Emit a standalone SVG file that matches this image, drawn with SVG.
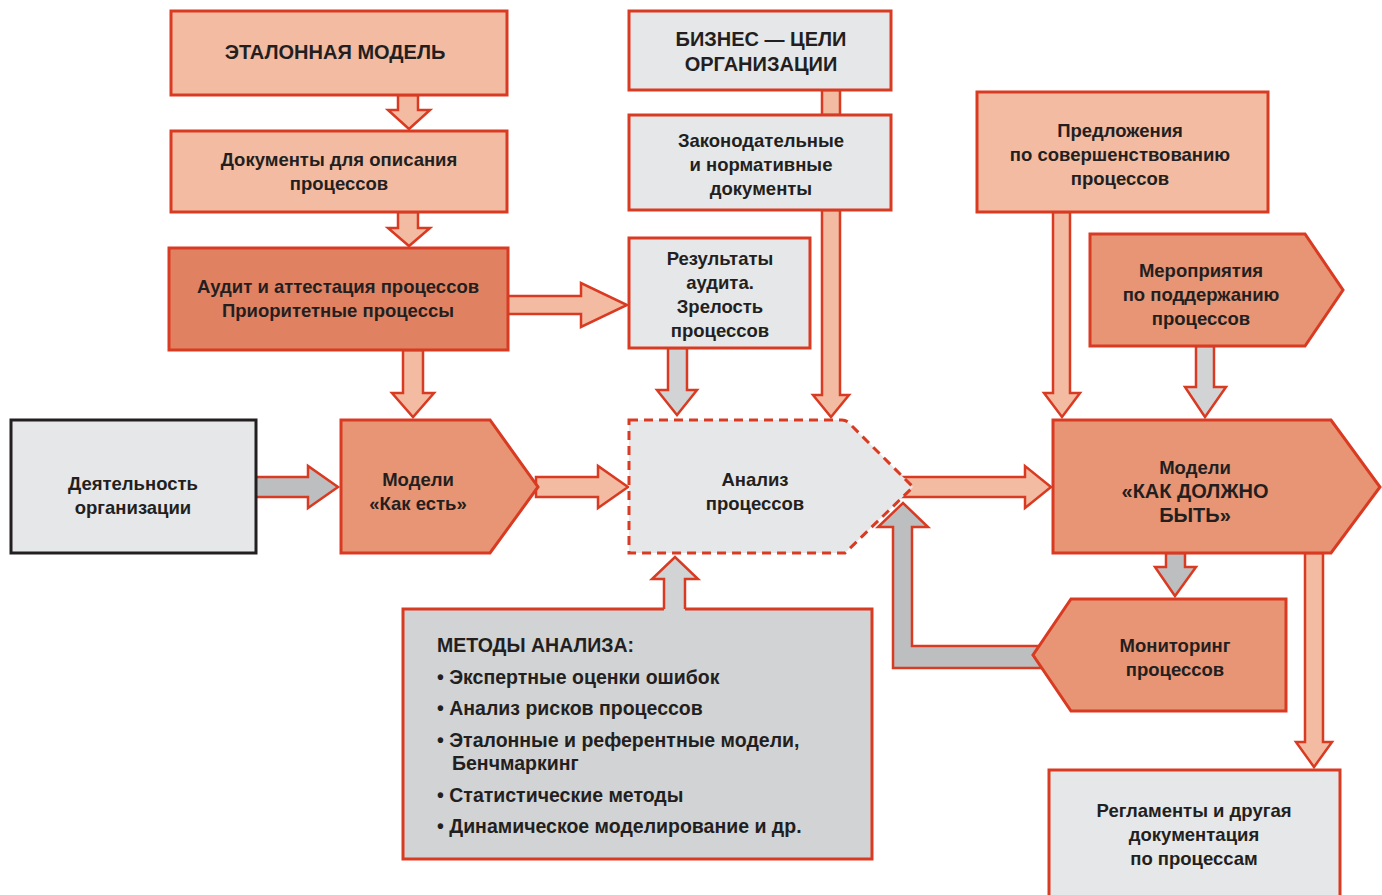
<svg xmlns="http://www.w3.org/2000/svg" width="1382" height="895" viewBox="0 0 1382 895">
  <style>
    .bx { stroke: #d93a22; stroke-width: 3; stroke-linejoin: miter; }
    .dk { stroke: #231f20; stroke-width: 3; }
    .dash { stroke: #d93a22; stroke-width: 3; stroke-dasharray: 9 6; }
    .lt { fill: #f2bba2; }
    .md { fill: #e79574; }
    .dr { fill: #e08262; }
    .gr { fill: #e6e7e8; }
    .gr2 { fill: #d1d3d4; }
    .ar { stroke: #d93a22; stroke-width: 2.5; stroke-linejoin: miter; }
    .as { fill: #f2bba2; }
    .ag { fill: #bcbec0; }
    .ag2 { fill: #d1d3d4; }
    text { font-family: "Liberation Sans", Arial, sans-serif; font-weight: bold; font-size: 18.5px; fill: #231f20; }
    .c { text-anchor: middle; }
    .cap { font-size: 20px; }
    .lst { font-size: 19.5px; }
  </style>

  <!-- block arrows between the boxes -->
  <g id="connectors">
    <polygon class="ar as" points="398,95 418,95 418,110 430,110 409,129 388,110 398,110"/>
    <polygon class="ar as" points="398,212 418,212 418,228 430,228 409,246 388,228 398,228"/>
    <polygon class="ar as" points="507,296 581,296 581,283 627,305 581,327 581,314 507,314"/>
    <polygon class="ar as" points="403,350 423,350 423,393 434,393 413,417 392,393 403,393"/>
    <rect class="ar as" x="822" y="90" width="18" height="25"/>
    <polygon class="ar as" points="822,210 840,210 840,395 849,395 831,417 813,395 822,395"/>
    <polygon class="ar ag2" points="668,348 687,348 687,390 697,390 677,415 657,390 668,390"/>
    <polygon class="ar ag" points="255,477 308,477 308,466 338,487 308,508 308,497 255,497"/>
    <polygon class="ar as" points="536,477 598,477 598,466 628,487 598,508 598,497 536,497"/>
    <polygon class="ar as" points="900,477 1025,477 1025,466 1051,487 1025,508 1025,497 900,497"/>
    <polygon class="ar ag" points="1045,646 912,646 912,527 928,527 903,503 878,527 893,527 893,668 1045,668"/>
    <polygon class="ar ag" points="1166,553 1185,553 1185,567 1196,567 1175,596 1155,567 1166,567"/>
    <polygon class="ar as" points="1305,553 1323,553 1323,742 1332,742 1314,767 1296,742 1305,742"/>
    <polygon class="ar as" points="1053,212 1070,212 1070,393 1080,393 1062,417 1044,393 1053,393"/>
    <polygon class="ar ag2" points="1196,346 1214,346 1214,387 1226,387 1205,417 1185,387 1196,387"/>
    <polygon class="ar ag2" points="664,612 664,579 652,579 675,557 698,579 685,579 685,612"/>
  </g>

  <g id="etalon">
    <rect class="bx lt" x="171" y="11" width="336" height="84"/>
    <text class="c cap" x="335" y="59">ЭТАЛОННАЯ МОДЕЛЬ</text>
  </g>

  <g id="docs">
    <rect class="bx lt" x="171" y="131" width="336" height="81"/>
    <text class="c" x="339" y="166">Документы для описания</text>
    <text class="c" x="339" y="190">процессов</text>
  </g>

  <g id="audit">
    <rect class="bx dr" x="169" y="248" width="339" height="102"/>
    <text class="c" x="338" y="293">Аудит и аттестация процессов</text>
    <text class="c" x="338" y="317">Приоритетные процессы</text>
  </g>

  <g id="business">
    <rect class="bx gr" x="629" y="11" width="262" height="79"/>
    <text class="c cap" x="761" y="46">БИЗНЕС — ЦЕЛИ</text>
    <text class="c cap" x="761" y="71">ОРГАНИЗАЦИИ</text>
  </g>

  <g id="legal">
    <rect class="bx gr" x="629" y="115" width="262" height="95"/>
    <text class="c" x="761" y="147">Законодательные</text>
    <text class="c" x="761" y="171">и нормативные</text>
    <text class="c" x="761" y="195">документы</text>
  </g>

  <g id="results">
    <rect class="bx gr" x="629" y="238" width="181" height="110"/>
    <text class="c" x="720" y="265">Результаты</text>
    <text class="c" x="720" y="289">аудита.</text>
    <text class="c" x="720" y="313">Зрелость</text>
    <text class="c" x="720" y="337">процессов</text>
  </g>

  <g id="proposals">
    <rect class="bx lt" x="977" y="92" width="291" height="120"/>
    <text class="c" x="1120" y="137">Предложения</text>
    <text class="c" x="1120" y="161">по совершенствованию</text>
    <text class="c" x="1120" y="185">процессов</text>
  </g>

  <g id="support">
    <polygon class="bx md" points="1090,234 1305,234 1343,290 1305,346 1090,346"/>
    <text class="c" x="1201" y="277">Мероприятия</text>
    <text class="c" x="1201" y="301">по поддержанию</text>
    <text class="c" x="1201" y="325">процессов</text>
  </g>

  <g id="activity">
    <rect class="dk gr" x="11" y="420" width="245" height="133"/>
    <text class="c" x="133" y="490">Деятельность</text>
    <text class="c" x="133" y="514">организации</text>
  </g>

  <g id="as-is">
    <polygon class="bx md" points="341,420 490,420 538,487 490,553 341,553"/>
    <text class="c" x="418" y="486">Модели</text>
    <text class="c" x="418" y="510">«Как есть»</text>
  </g>

  <g id="analysis">
    <path class="dash gr" d="M629,420 H842 Q846,420 849,423 L913,487 L845,553 H629 Z"/>
    <text class="c" x="755" y="486">Анализ</text>
    <text class="c" x="755" y="510">процессов</text>
  </g>

  <g id="to-be">
    <polygon class="bx md" points="1053,420 1331,420 1380,487 1331,553 1053,553"/>
    <text class="c" x="1195" y="474">Модели</text>
    <text class="c cap" x="1195" y="498">«КАК ДОЛЖНО</text>
    <text class="c cap" x="1195" y="522">БЫТЬ»</text>
  </g>

  <g id="monitoring">
    <polygon class="bx md" points="1071,599 1286,599 1286,711 1071,711 1033,655"/>
    <text class="c" x="1175" y="652">Мониторинг</text>
    <text class="c" x="1175" y="676">процессов</text>
  </g>

  <g id="methods">
    <path class="bx gr2" d="M664,609 H403 V859 H872 V609 H685"/>
    <text class="lst" x="437" y="652">МЕТОДЫ АНАЛИЗА:</text>
    <text class="lst" x="437" y="684">• Экспертные оценки ошибок</text>
    <text class="lst" x="437" y="715">• Анализ рисков процессов</text>
    <text class="lst" x="437" y="747">• Эталонные и референтные модели,</text>
    <text class="lst" x="452" y="770">Бенчмаркинг</text>
    <text class="lst" x="437" y="802">• Статистические методы</text>
    <text class="lst" x="437" y="833">• Динамическое моделирование и др.</text>
  </g>

  <g id="regulations">
    <rect class="bx gr" x="1049" y="770" width="291" height="130"/>
    <text class="c" x="1194" y="817">Регламенты и другая</text>
    <text class="c" x="1194" y="841">документация</text>
    <text class="c" x="1194" y="865">по процессам</text>
  </g>
</svg>
